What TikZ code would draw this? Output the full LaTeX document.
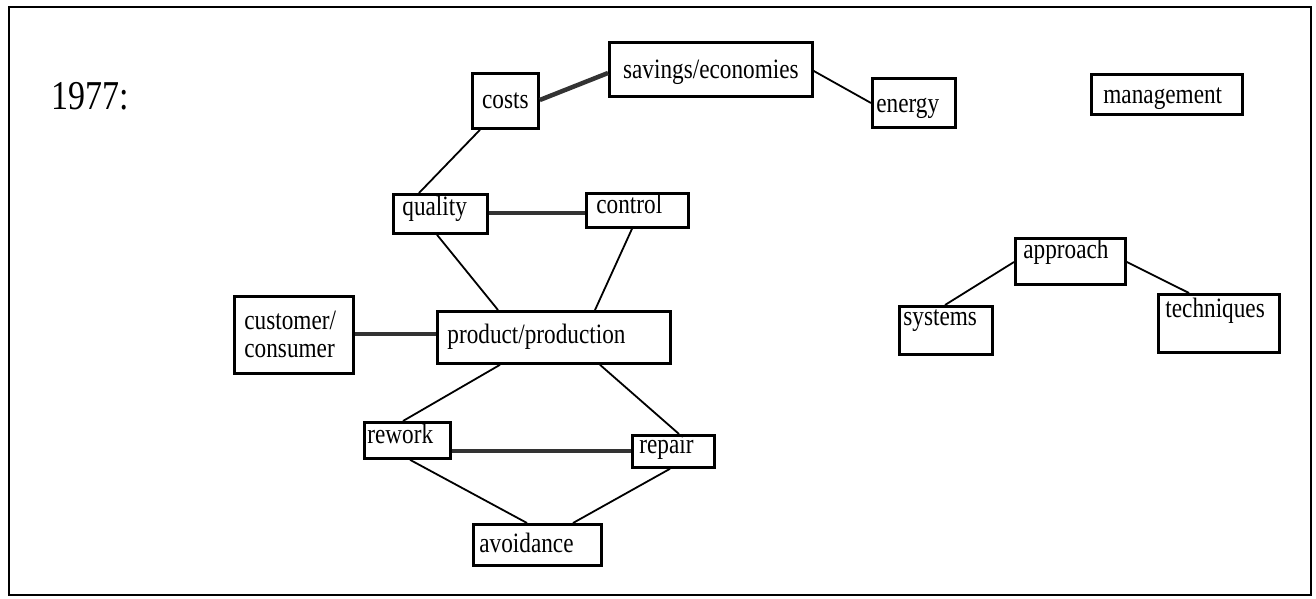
\documentclass[tikz,border=0pt]{standalone}
\usepackage{fontspec}
\setmainfont{Liberation Serif}
\newfontfamily\narrowserif[FakeStretch=0.83]{Liberation Serif}
\usepackage{tikz}

\newcommand{\boxfont}{\narrowserif\fontsize{28}{28}\selectfont}
\tikzset{
	box/.style={draw, line width=2.8pt, anchor=north west, inner xsep=#1, inner ysep=0pt, align=left, font=\boxfont},
	box/.default=4pt,
	link/.style={line width=1.8pt},
	strong/.style={line width=4.5pt, black!80},
}

\begin{document}
\begin{tikzpicture}[x=1pt,y=-1pt]
		%\draw[help lines,step=50] (0,0) grid (1316,599);
		\useasboundingbox (0,0) rectangle (1316,599);
		\draw[line width=2.8pt] (9,7) rectangle (1311,595);
		\node[anchor=base west, font=\narrowserif\fontsize{41}{44}\selectfont] (year) at (48,110) {1977:};

		\node[box=4pt, text width=58pt, text height=35pt, text depth=20pt, align=center] (costs) at (471,72) {costs};
		\node[box=4pt, text width=195pt, text height=36pt, text depth=18pt, align=center] (savings) at (608,41) {savings/economies};
		\node[box=4pt, text width=75pt, text height=34pt, text depth=15pt] (energy) at (871,77) {energy};
		\node[box=12pt, text width=127pt, text height=29pt, text depth=11pt] (management) at (1090,73) {management};
		\node[box=9pt, text width=76pt, text height=21pt, text depth=18pt] (quality) at (392,193) {quality};
		\node[box=10pt, text width=82pt, text height=20pt, text depth=14pt] (control) at (585,192) {control};
		\node[box=10pt, text width=99pt, minimum height=77pt] (customer) at (233,295) {customer/\\consumer};
		\node[box=10pt, text width=213pt, text height=32pt, text depth=20pt] (product) at (436,310) {product/production};
		\node[box=3pt, text width=80pt, text height=21pt, text depth=15pt] (rework) at (363,421) {rework};
		\node[box=7pt, text width=68pt, text height=18pt, text depth=14pt] (repair) at (631,434) {repair};
		\node[box=6pt, text width=116pt, text height=28pt, text depth=13pt] (avoidance) at (472,523) {avoidance};
		\node[box=8pt, text width=94pt, text height=20pt, text depth=26pt] (approach) at (1014,237) {approach};
		\node[box=4pt, text width=85pt, text height=19pt, text depth=29pt] (systems) at (898,305) {systems};
		\node[box=7pt, text width=107pt, text height=23pt, text depth=35pt] (techniques) at (1157,293) {techniques};

		\draw[strong] ([yshift=-28pt]costs.north east) -- ([yshift=-32pt]savings.north west);
		\draw[link] ([yshift=-30pt]savings.north east) -- ([yshift=-26pt]energy.north west);
		\draw[link] ([xshift=9pt]costs.south west) -- ([xshift=27pt]quality.north west);
		\draw[strong] ([yshift=-20pt]quality.north east) -- ([yshift=-21pt]control.north west);
		\draw[link] ([xshift=45pt]quality.south west) -- ([xshift=62pt]product.north west);
		\draw[link] ([xshift=47pt]control.south west) -- ([xshift=159pt]product.north west);
		\draw[strong] ([yshift=-39pt]customer.north east) -- ([yshift=-24pt]product.north west);
		\draw[link] ([xshift=64pt]product.south west) -- ([xshift=40pt]rework.north west);
		\draw[link] ([xshift=164pt]product.south west) -- ([xshift=48pt]repair.north west);
		\draw[strong] ([yshift=-30pt]rework.north east) -- ([yshift=-17pt]repair.north west);
		\draw[link] ([xshift=47pt]rework.south west) -- ([xshift=55pt]avoidance.north west);
		\draw[link] ([xshift=39pt]repair.south west) -- ([xshift=101pt]avoidance.north west);
		\draw[link] ([yshift=-25pt]approach.north west) -- ([xshift=47pt]systems.north west);
		\draw[link] ([yshift=-25pt]approach.north east) -- ([xshift=32pt]techniques.north west);
\end{tikzpicture}
\end{document}
